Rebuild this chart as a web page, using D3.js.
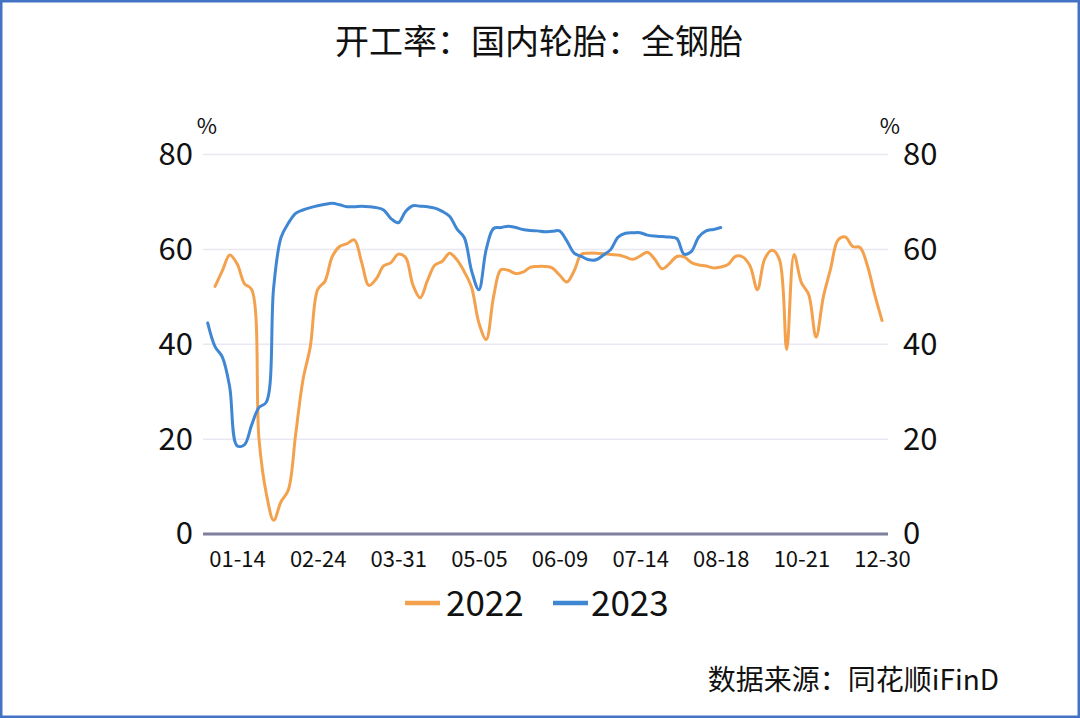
<!DOCTYPE html>
<html><head><meta charset="utf-8">
<script src="https://cdn.jsdelivr.net/npm/d3@7"></script>
<style>
html,body{margin:0;padding:0;background:#fff;}
svg{display:block;}
text{font-family:"Noto Sans CJK SC","Noto Sans",sans-serif;fill:#111;}
</style></head>
<body>
<svg id="chart" width="1080" height="718"></svg>
<script>
const title = "开工率：国内轮胎：全钢胎";
const source = "数据来源：同花顺iFinD";
const unit = "%";
const seriesNames = ["2022", "2023"];
const yTicks = [0, 20, 40, 60, 80];
const tickLabels = ["01-14","02-24","03-31","05-05","06-09","07-14","08-18","10-21","12-30"];
const categories = [
"01-05","01-07","01-12","01-13","01-14","01-19","01-20","01-26","01-27","02-02","02-09",
"02-10","02-16","02-17","02-23","02-24","03-02","03-03","03-09","03-10","03-16","03-17",
"03-23","03-24","03-29","03-30","03-31","04-06","04-07","04-13","04-14","04-20","04-21",
"04-27","04-28","04-29","05-04","05-05","05-11","05-12","05-18","05-19","05-25","05-26",
"06-01","06-02","06-07","06-08","06-09","06-15","06-16","06-21","06-22","06-29","06-30",
"07-06","07-07","07-12","07-13","07-14","07-20","07-21","07-27","07-28","08-03","08-04",
"08-10","08-11","08-16","08-17","08-18","08-25","09-01","09-08","09-15","09-22","09-29",
"09-30","10-08","10-13","10-14","10-21","10-27","11-03","11-10","11-17","11-24","12-01",
"12-08","12-15","12-22","12-29","12-30"];
const values2022 = [null,
52.2,55.5,58.8,57.0,52.8,51.5,20.0,8.5,2.9,6.8,
9.3,21.0,32.5,39.5,51.5,53.3,58.5,60.6,61.2,62.0,
57.3,52.4,53.8,56.5,57.2,59.0,58.3,52.5,49.8,53.5,
56.7,57.5,59.2,57.8,55.3,52.0,44.5,41.0,50.0,55.7,
55.6,54.9,55.2,56.2,56.4,56.4,56.1,54.6,53.1,55.5,
59.0,59.2,59.2,59.1,58.9,58.8,58.4,57.9,58.6,59.4,
57.9,55.9,57.0,58.5,58.4,57.2,56.7,56.5,56.1,56.3,
56.8,58.5,58.4,56.5,51.5,58.0,59.8,57.9,38.9,58.9,
53.0,50.5,41.5,50.0,56.0,62.0,62.6,60.6,60.4,56.6,
50.5,45.0];
const values2023 = [
44.5,39.5,37.3,31.0,18.6,18.8,23.0,26.7,27.8,52.0,
62.5,65.5,67.6,68.3,68.8,69.2,69.5,69.7,69.4,69.0,
69.0,69.1,69.0,68.8,68.3,66.5,65.6,68.0,69.2,69.1,
69.0,68.7,68.0,67.0,64.3,62.5,55.5,51.5,60.0,64.4,
64.6,64.9,64.6,64.2,64.0,63.9,63.7,63.8,63.9,61.8,
59.2,58.5,57.8,57.8,58.8,60.0,62.6,63.4,63.5,63.5,
63.0,62.8,62.7,62.6,62.3,59.0,59.6,62.6,63.9,64.2,
64.6];
const colors = ["#F4A14E", "#3F86D3"];

const svg = d3.select("#chart");
const W = 1080, H = 718;
const plot = {left: 203, right: 888};

// border
svg.append("rect").attr("x", 1.25).attr("y", 1.25).attr("width", W - 2.5).attr("height", H - 2.5)
  .attr("fill", "#fff").attr("stroke", "#4472C4").attr("stroke-width", 2.5);

const x = d3.scaleLinear().domain([0, categories.length - 1]).range([207.7, 882]);
const y = d3.scaleLinear().domain([0, 80]).range([534, 154.5]);

// title
svg.append("text").attr("x", 539).attr("y", 54).attr("text-anchor", "middle")
  .attr("font-size", 34).text(title);

// gridlines
svg.append("g").selectAll("line").data(yTicks.filter(d => d > 0)).join("line")
  .attr("x1", plot.left).attr("x2", plot.right)
  .attr("y1", d => y(d)).attr("y2", d => y(d))
  .attr("stroke", "#E8E8F3").attr("stroke-width", 1.5);

// left axis
const yl = svg.append("g").attr("transform", `translate(${plot.left},0)`)
  .call(d3.axisLeft(y).tickValues(yTicks).tickSize(0).tickPadding(10));
yl.select(".domain").remove();
yl.selectAll("text").attr("font-size", 31).attr("fill", "#111")
  .style("font-family", '"Noto Sans CJK SC",sans-serif');

// right axis
const yr = svg.append("g").attr("transform", `translate(${plot.right},0)`)
  .call(d3.axisRight(y).tickValues(yTicks).tickSize(0).tickPadding(15));
yr.select(".domain").remove();
yr.selectAll("text").attr("font-size", 31).attr("fill", "#111")
  .style("font-family", '"Noto Sans CJK SC",sans-serif');

// units
svg.append("text").attr("x", 207).attr("y", 134).attr("text-anchor", "middle").attr("font-size", 22).text(unit);
svg.append("text").attr("x", 890).attr("y", 134).attr("text-anchor", "middle").attr("font-size", 22).text(unit);

// x axis
const xa = svg.append("g").attr("transform", `translate(0,${y(0)})`)
  .call(d3.axisBottom(x).tickValues(tickLabels.map(l => categories.indexOf(l)))
    .tickFormat(i => categories[i]).tickSize(0).tickPadding(17));
xa.select(".domain").remove();
xa.selectAll("text").attr("font-size", 22).attr("fill", "#111")
  .style("font-family", '"Noto Sans CJK SC",sans-serif');
svg.append("line").attr("x1", plot.left).attr("x2", plot.right)
  .attr("y1", y(0)).attr("y2", y(0)).attr("stroke", "#7F7F9E").attr("stroke-width", 3);

// lines
const line = d3.line()
  .defined(d => d[1] != null)
  .x(d => x(d[0])).y(d => y(d[1]))
  .curve(d3.curveCatmullRom.alpha(0.5));
[values2022, values2023].forEach((vals, k) => {
  const pts = vals.map((v, i) => [i, v]).filter(d => d[1] != null);
  svg.append("path").datum(pts).attr("d", line)
    .attr("fill", "none").attr("stroke", colors[k]).attr("stroke-width", 3)
    .attr("stroke-linejoin", "round").attr("stroke-linecap", "round");
});

// legend
const legendItems = [{x: 405, tx: 446}, {x: 553, tx: 591}];
legendItems.forEach((it, k) => {
  svg.append("line").attr("x1", it.x).attr("x2", it.x + 35).attr("y1", 603).attr("y2", 603)
    .attr("stroke", colors[k]).attr("stroke-width", 4.5);
  svg.append("text").attr("x", it.tx).attr("y", 616).attr("font-size", 35).text(seriesNames[k]);
});

// source
svg.append("text").attr("x", 999).attr("y", 690).attr("text-anchor", "end").attr("font-size", 28).text(source);
</script>
</body></html>
